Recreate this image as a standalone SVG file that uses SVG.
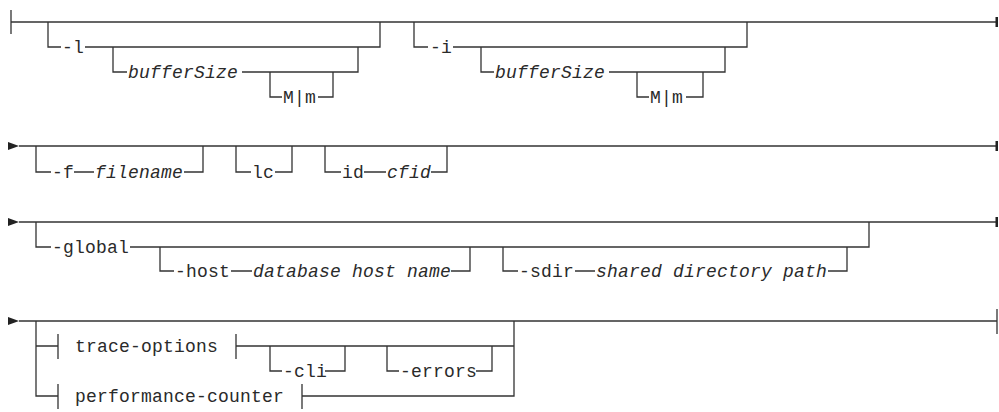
<svg xmlns="http://www.w3.org/2000/svg" width="999" height="412" viewBox="0 0 999 412">
<style>
  .ln { fill: none; stroke: #333; stroke-width: 1.3; }
  .t { font-family: "Liberation Mono", "DejaVu Sans Mono", monospace; font-size: 18px; letter-spacing: 0.2px; fill: #2a2a2a; }
  .v { font-style: italic; }
  .mk { fill: #222; }
</style>
<rect width="999" height="412" fill="#fff"/>
<g id="connectors">
  <!-- Row 1 -->
  <path class="ln" d="M11 10 V34 M11 22 H997"/>
  <rect class="mk" x="995.5" y="17" width="2.5" height="10"/>
  <!-- -l branch -->
  <path class="ln" d="M48 22 V47 H61 M85 47 H380 V22"/>
  <path class="ln" d="M113 47 V72 H127 M242 72 H358 V47"/>
  <path class="ln" d="M270 72 V97 H282 M318 97 H333 V72"/>
  <!-- -i branch -->
  <path class="ln" d="M414 22 V47 H428 M453 47 H747 V22"/>
  <path class="ln" d="M481 47 V72 H494 M609 72 H725 V47"/>
  <path class="ln" d="M637 72 V97 H649 M686 97 H703 V72"/>

  <!-- Row 2 -->
  <path class="mk" d="M8 142 L19 146 L8 150 Z"/>
  <path class="ln" d="M19 146 H997"/>
  <rect class="mk" x="995.5" y="141" width="2.5" height="10"/>
  <path class="ln" d="M36 146 V172 H51 M74 172 H94 M184 172 H203 V146"/>
  <path class="ln" d="M236 146 V172 H251 M275 172 H292 V146"/>
  <path class="ln" d="M325 146 V172 H341 M364 172 H386 M431 172 H447 V146"/>

  <!-- Row 3 -->
  <path class="mk" d="M8 218 L19 222 L8 226 Z"/>
  <path class="ln" d="M19 222 H997"/>
  <rect class="mk" x="995.5" y="217" width="2.5" height="10"/>
  <path class="ln" d="M36 222 V247 H51 M130 247 H869 V222"/>
  <path class="ln" d="M160 247 V271 H174 M231 271 H252 M451 271 H470 V247"/>
  <path class="ln" d="M503 247 V271 H518 M575 271 H595 M828 271 H847 V247"/>

  <!-- Row 4 -->
  <path class="mk" d="M8 317 L19 321 L8 325 Z"/>
  <path class="ln" d="M19 321 H997 M997 309 V334"/>
  <path class="ln" d="M36 321 V396 H58 M36 346 H58"/>
  <path class="ln" d="M58 334 V359 M236 334 V359 M236 346 H514"/>
  <path class="ln" d="M58 384 V409 M302 384 V409 M302 396 H514 V321"/>
  <path class="ln" d="M270 346 V371 H282 M325 371 H345 V346"/>
  <path class="ln" d="M387 346 V371 H399 M476 371 H492 V346"/>
</g>

<g id="n-l"><text class="t" x="62" y="53">-l</text></g>
<g id="n-l-buffer"><text class="t v" x="128" y="78">bufferSize</text></g>
<g id="n-l-unit"><text class="t" x="283" y="103">M|m</text></g>
<g id="n-i"><text class="t" x="430" y="53">-i</text></g>
<g id="n-i-buffer"><text class="t v" x="495" y="78">bufferSize</text></g>
<g id="n-i-unit"><text class="t" x="650" y="103">M|m</text></g>

<g id="n-f"><text class="t" x="52" y="178">-f</text><text class="t v" x="95" y="178">filename</text></g>
<g id="n-lc"><text class="t" x="252" y="178">lc</text></g>
<g id="n-id"><text class="t" x="342" y="178">id</text><text class="t v" x="387" y="178">cfid</text></g>

<g id="n-global"><text class="t" x="52" y="253">-global</text></g>
<g id="n-host"><text class="t" x="175" y="277">-host</text><text class="t v" x="253" y="277">database host name</text></g>
<g id="n-sdir"><text class="t" x="519" y="277">-sdir</text><text class="t v" x="596" y="277">shared directory path</text></g>

<g id="n-trace"><text class="t" x="75" y="352">trace-options</text></g>
<g id="n-cli"><text class="t" x="283" y="377">-cli</text></g>
<g id="n-errors"><text class="t" x="400" y="377">-errors</text></g>
<g id="n-perf"><text class="t" x="75" y="402">performance-counter</text></g>
</svg>
